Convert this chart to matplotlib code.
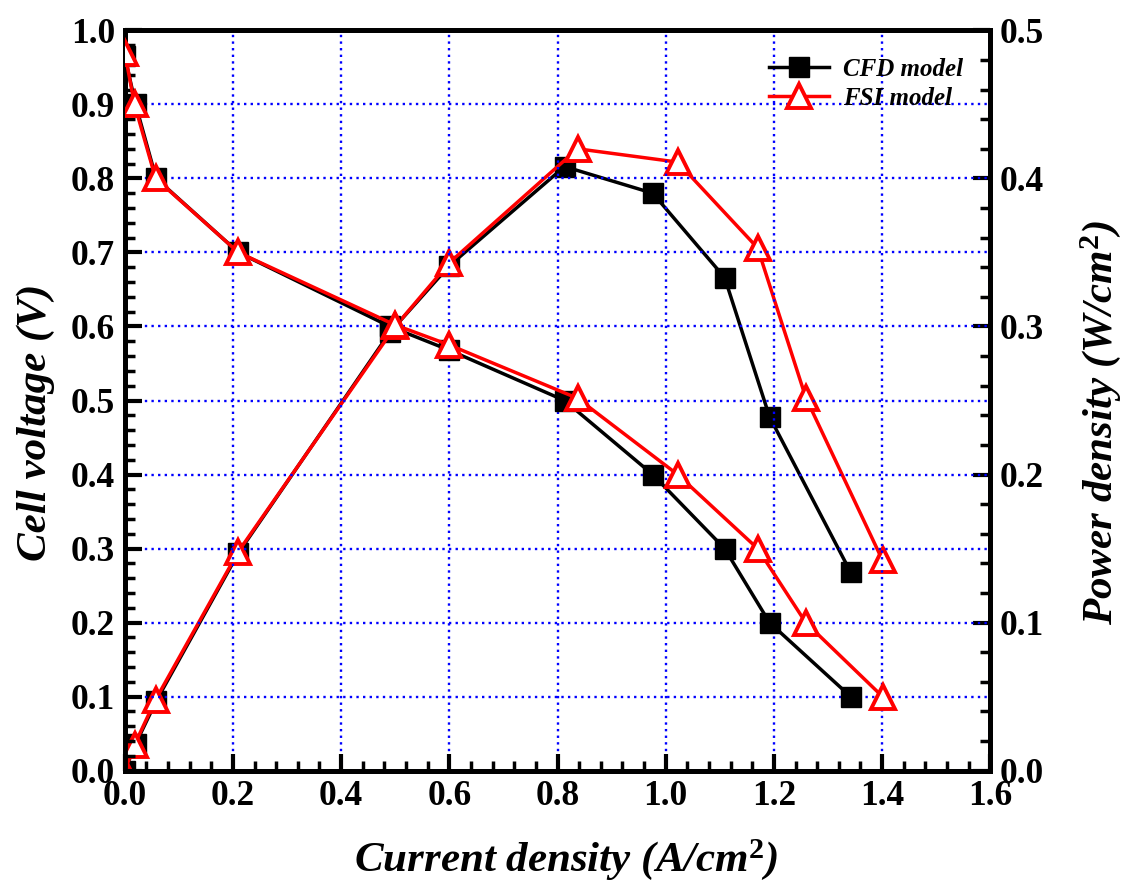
import matplotlib
matplotlib.use("Agg")
import matplotlib.pyplot as plt
from matplotlib.ticker import MultipleLocator

plt.rcParams['font.family'] = ['Liberation Serif', 'DejaVu Serif']
plt.rcParams['mathtext.fontset'] = 'custom'
plt.rcParams['mathtext.bf'] = 'Liberation Serif:bold'
plt.rcParams['mathtext.rm'] = 'Liberation Serif:bold'
plt.rcParams['mathtext.it'] = 'Liberation Serif:bold:italic'

# Data
cfd_current = [0.0, 0.02, 0.058, 0.21, 0.49, 0.60, 0.813, 0.976, 1.109, 1.192, 1.342]
cfd_voltage = [0.965, 0.90, 0.80, 0.70, 0.60, 0.568, 0.50, 0.40, 0.30, 0.20, 0.10]
cfd_power = [0.0, 0.018, 0.047, 0.147, 0.296, 0.341, 0.408, 0.39, 0.333, 0.239, 0.134]

fsi_current = [0.0, 0.018, 0.057, 0.21, 0.50, 0.60, 0.837, 1.022, 1.17, 1.259, 1.401]
fsi_voltage = [0.97, 0.90, 0.80, 0.70, 0.602, 0.575, 0.503, 0.40, 0.30, 0.20, 0.10]
fsi_power = [0.0, 0.0175, 0.048, 0.148, 0.30, 0.343, 0.42, 0.411, 0.353, 0.252, 0.142]

xticks = [0.0, 0.2, 0.4, 0.6, 0.8, 1.0, 1.2, 1.4, 1.6]

fig = plt.figure(figsize=(11.24, 8.92), dpi=100)
ax = fig.add_axes([0.111, 0.136, 0.770, 0.830])
ax2 = ax.twinx()

lw = 2.5
cfd_style = dict(color='black', lw=lw, marker='s', ms=14, mfc='black', mec='black')
fsi_style = dict(color='red', lw=lw, marker='^', ms=17, mfc='white', mec='red', mew=2.8)

# voltage on left axis
ax.plot(cfd_current, cfd_voltage, label='CFD model', zorder=3, **cfd_style)
# power on right axis
ax2.plot(cfd_current, cfd_power, zorder=3, **cfd_style)
ax.plot(fsi_current, fsi_voltage, label='FSI model', zorder=4, **fsi_style)
ax2.plot(fsi_current, fsi_power, zorder=4, **fsi_style)

ax.set_xlim(0, 1.6)
ax.set_ylim(0, 1.0)
ax2.set_ylim(0, 0.5)

ax.xaxis.set_minor_locator(MultipleLocator(0.04))
ax.yaxis.set_major_locator(MultipleLocator(0.1))
ax.yaxis.set_minor_locator(MultipleLocator(0.02))
ax2.yaxis.set_major_locator(MultipleLocator(0.1))
ax2.yaxis.set_minor_locator(MultipleLocator(0.02))

ax.set_xticks(xticks)
ax.set_xticklabels(['%.1f' % v for v in xticks])
ax.yaxis.set_major_formatter(plt.FormatStrFormatter('%.1f'))
ax2.yaxis.set_major_formatter(plt.FormatStrFormatter('%.1f'))

ax.grid(True, which='major', color='blue', linestyle=(0, (1, 1.8)), lw=1.7)

for a in (ax, ax2):
    for s in a.spines.values():
        s.set_linewidth(3.5)
    a.tick_params(which='major', direction='in', length=12, width=3,
                  labelsize=25.5, pad=7)
    a.tick_params(which='minor', direction='in', length=7, width=2.5)
    for lab in a.get_xticklabels() + a.get_yticklabels():
        lab.set_fontweight('bold')

ax.tick_params(axis='x', which='both', top=False)
ax.tick_params(axis='y', which='both', right=False)
ax2.tick_params(axis='y', which='both', left=False)

label_font = dict(fontsize=31, fontweight='bold', fontstyle='italic')
ax.set_xlabel(r'Current density (A/cm$^{\mathbf{2}}$)', **label_font)
ax.set_ylabel('Cell voltage (V)', **label_font)
ax2.set_ylabel(r'Power density (W/cm$^{\mathbf{2}}$)', **label_font)
ax.yaxis.set_label_coords(-0.081, 0.47)
ax2.yaxis.set_label_coords(1.102, 0.47)
ax.xaxis.set_label_coords(0.51, -0.09)

ax.set_zorder(ax2.get_zorder() + 1)
ax.patch.set_visible(False)

leg = ax.legend(loc='upper right', frameon=False, handlelength=2.4,
                borderaxespad=0.7, labelspacing=0.25, handletextpad=0.55,
                prop=dict(family='Liberation Serif', weight='bold',
                          style='italic', size=18))

fig.savefig('out.png', dpi=100)
